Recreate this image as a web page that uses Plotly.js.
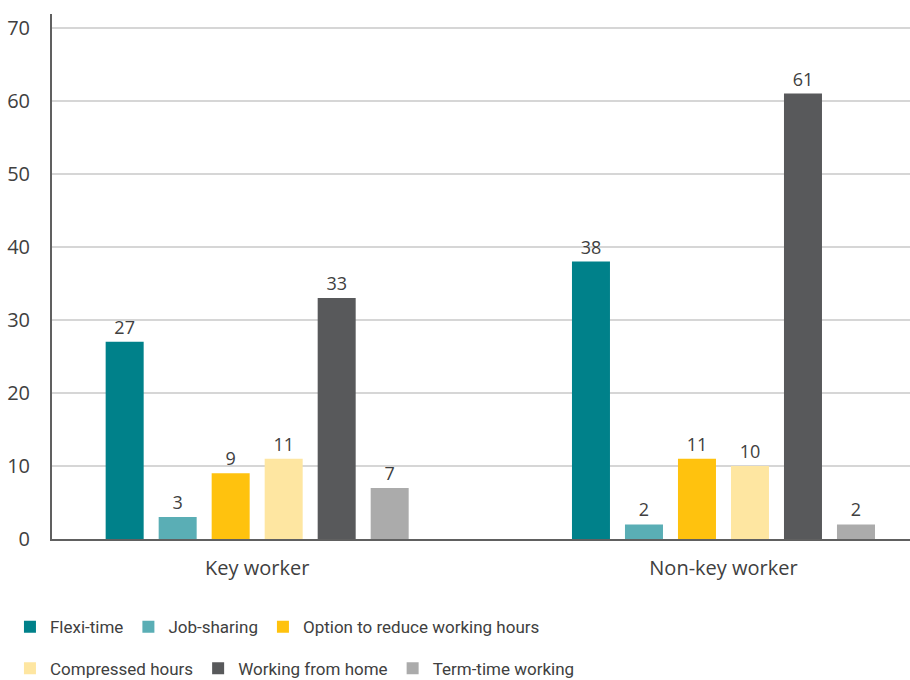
<!DOCTYPE html>
<html>
<head>
<meta charset="utf-8">
<script src="https://cdn.plot.ly/plotly-3.0.1.min.js"></script>
<style>
  html, body { margin: 0; padding: 0; background: #ffffff; }
  #chart { width: 910px; height: 680px; }
</style>
</head>
<body>
<div id="chart"></div>
<script>
// Worker groups along the x axis
const groups = ['Key worker', 'Non-key worker'];

// Share of respondents (%) using each working arrangement
const flexiTime      = [27, 38];
const jobSharing     = [3, 2];
const reduceHours    = [9, 11];
const compressed     = [11, 10];
const workFromHome   = [33, 61];
const termTime       = [7, 2];

const seriesNames = [
  'Flexi-time',
  'Job-sharing',
  'Option to reduce working hours',
  'Compressed hours',
  'Working from home',
  'Term-time working'
];
const seriesValues = [flexiTime, jobSharing, reduceHours, compressed, workFromHome, termTime];
const seriesColors = ['#00818a', '#5aaeb5', '#ffc20e', '#fee6a1', '#58595b', '#ababab'];

const yTicks = [0, 10, 20, 30, 40, 50, 60, 70];

const textColor = '#404040';
const baseFont = '"Open Sans", "Liberation Sans", sans-serif';
const legendFont = '"Liberation Sans Narrow", Roboto, sans-serif';

// First three series go in the top legend row, the rest in the second row
const traces = seriesNames.map((name, i) => ({
  type: 'bar',
  name: name,
  x: groups,
  y: seriesValues[i],
  text: seriesValues[i].map(String),
  textposition: 'outside',
  cliponaxis: false,
  textfont: { family: baseFont, size: 18, color: textColor },
  marker: { color: seriesColors[i], line: { width: 0 } },
  hoverinfo: 'x+y+name',
  legend: i < 3 ? 'legend' : 'legend2'
}));

const legendCommon = {
  orientation: 'h',
  xanchor: 'left',
  yanchor: 'middle',
  x: -0.049,
  bgcolor: 'rgba(0,0,0,0)',
  borderwidth: 0,
  traceorder: 'normal',
  font: { family: legendFont, size: 17, color: textColor }
};

const layout = {
  width: 910,
  height: 680,
  margin: { l: 52, r: 0, t: 14, b: 141, pad: 0, autoexpand: false },
  paper_bgcolor: '#ffffff',
  plot_bgcolor: '#ffffff',
  font: { family: baseFont, color: textColor },
  barmode: 'group',
  bargap: 0.318,
  bargroupgap: 0.283,
  showlegend: true,
  legend: Object.assign({}, legendCommon, { y: -0.168 }),
  legend2: Object.assign({}, legendCommon, { y: -0.247 }),
  xaxis: {
    type: 'category',
    range: [-0.44, 1.40],
    showgrid: false,
    zeroline: false,
    showline: true,
    linecolor: '#606060',
    linewidth: 2,
    ticks: '',
    ticklabelstandoff: 10,
    tickfont: { family: baseFont, size: 20, color: textColor },
    fixedrange: true
  },
  yaxis: {
    range: [0, 71.9],
    tickmode: 'array',
    tickvals: yTicks,
    ticktext: yTicks.map(String),
    showgrid: true,
    gridcolor: '#d6d6d6',
    gridwidth: 1.5,
    zeroline: false,
    showline: true,
    linecolor: '#606060',
    linewidth: 2,
    ticks: '',
    ticklabelstandoff: 16,
    tickfont: { family: baseFont, size: 20, color: textColor },
    fixedrange: true
  }
};

Plotly.newPlot('chart', traces, layout, { displayModeBar: false, staticPlot: true });
</script>
</body>
</html>
